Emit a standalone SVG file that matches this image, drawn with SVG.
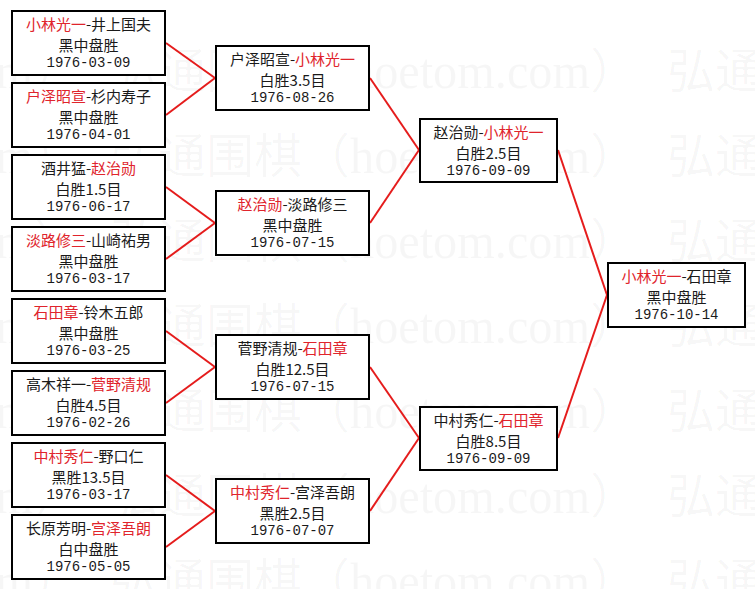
<svg xmlns="http://www.w3.org/2000/svg" width="755" height="589" viewBox="0 0 755 589">
<style>
.bg{fill:#ffffff}
.wm{font-family:"Noto Sans CJK SC",sans-serif;font-size:48px;fill:#000;fill-opacity:0.035}
.wl{font-family:"Liberation Serif",serif;font-size:50px}
.box{fill:#ffffff;stroke:#000;stroke-width:2}
.t{font-family:"Noto Sans CJK SC","Noto Sans",sans-serif;font-size:15px;fill:#1a1a1a;text-anchor:middle}
.d{font-family:"Liberation Mono","DejaVu Sans Mono",monospace;font-size:14px;fill:#1a1a1a;text-anchor:middle}
.r{fill:#e0242c}
.c{stroke:#e51c1c;stroke-width:2;fill:none}
</style>
<defs>
<g id="wmrow">
<text class="wm" x="-207" y="0"><tspan class="wl" textLength="240" lengthAdjust="spacingAndGlyphs">hoetom.com</tspan><tspan x="33">）</tspan><tspan x="110">弘通围棋（</tspan><tspan class="wl" x="350" textLength="240" lengthAdjust="spacingAndGlyphs">hoetom.com</tspan><tspan x="590">）</tspan><tspan x="667">弘通</tspan></text>
</g>
</defs>
<rect class="bg" x="0" y="0" width="755" height="589"/>
<g id="watermark">
<use href="#wmrow" x="0" y="88"/>
<use href="#wmrow" x="0" y="173"/>
<use href="#wmrow" x="0" y="258"/>
<use href="#wmrow" x="0" y="343"/>
<use href="#wmrow" x="0" y="428"/>
<use href="#wmrow" x="0" y="513"/>
<use href="#wmrow" x="0" y="598"/>
</g>
<g id="connectors">
<line class="c" x1="166" y1="43" x2="215" y2="78"/>
<line class="c" x1="166" y1="115" x2="215" y2="78"/>
<line class="c" x1="166" y1="187" x2="215" y2="223"/>
<line class="c" x1="166" y1="259" x2="215" y2="223"/>
<line class="c" x1="166" y1="331" x2="215" y2="367"/>
<line class="c" x1="166" y1="403" x2="215" y2="367"/>
<line class="c" x1="166" y1="475" x2="215" y2="511"/>
<line class="c" x1="166" y1="547" x2="215" y2="511"/>
<line class="c" x1="370" y1="78" x2="419" y2="150"/>
<line class="c" x1="370" y1="223" x2="419" y2="150"/>
<line class="c" x1="370" y1="367" x2="419" y2="438"/>
<line class="c" x1="370" y1="511" x2="419" y2="438"/>
<line class="c" x1="558" y1="150" x2="607" y2="295"/>
<line class="c" x1="558" y1="438" x2="607" y2="295"/>
</g>
<g id="r1a">
<rect class="box" x="12" y="11" width="153" height="64"/>
<text class="t" x="88.5" y="30"><tspan class="r">小林光一</tspan>-井上国夫</text>
<text class="t" x="88.5" y="50.5">黑中盘胜</text>
<text class="d" x="88.5" y="67">1976-03-09</text>
</g>
<g id="r1b">
<rect class="box" x="12" y="83" width="153" height="64"/>
<text class="t" x="88.5" y="102"><tspan class="r">户泽昭宣</tspan>-杉内寿子</text>
<text class="t" x="88.5" y="122.5">黑中盘胜</text>
<text class="d" x="88.5" y="139">1976-04-01</text>
</g>
<g id="r1c">
<rect class="box" x="12" y="155" width="153" height="64"/>
<text class="t" x="88.5" y="174">酒井猛-<tspan class="r">赵治勋</tspan></text>
<text class="t" x="88.5" y="194.5">白胜1.5目</text>
<text class="d" x="88.5" y="211">1976-06-17</text>
</g>
<g id="r1d">
<rect class="box" x="12" y="227" width="153" height="64"/>
<text class="t" x="88.5" y="246"><tspan class="r">淡路修三</tspan>-山崎祐男</text>
<text class="t" x="88.5" y="266.5">黑中盘胜</text>
<text class="d" x="88.5" y="283">1976-03-17</text>
</g>
<g id="r1e">
<rect class="box" x="12" y="299" width="153" height="64"/>
<text class="t" x="88.5" y="318"><tspan class="r">石田章</tspan>-铃木五郎</text>
<text class="t" x="88.5" y="338.5">黑中盘胜</text>
<text class="d" x="88.5" y="355">1976-03-25</text>
</g>
<g id="r1f">
<rect class="box" x="12" y="371" width="153" height="64"/>
<text class="t" x="88.5" y="390">高木祥一-<tspan class="r">菅野清规</tspan></text>
<text class="t" x="88.5" y="410.5">白胜4.5目</text>
<text class="d" x="88.5" y="427">1976-02-26</text>
</g>
<g id="r1g">
<rect class="box" x="12" y="443" width="153" height="64"/>
<text class="t" x="88.5" y="462"><tspan class="r">中村秀仁</tspan>-野口仁</text>
<text class="t" x="88.5" y="482.5">黑胜13.5目</text>
<text class="d" x="88.5" y="499">1976-03-17</text>
</g>
<g id="r1h">
<rect class="box" x="12" y="515" width="153" height="64"/>
<text class="t" x="88.5" y="534">长原芳明-<tspan class="r">宫泽吾朗</tspan></text>
<text class="t" x="88.5" y="554.5">白中盘胜</text>
<text class="d" x="88.5" y="571">1976-05-05</text>
</g>
<g id="r2a">
<rect class="box" x="216" y="46" width="153" height="64"/>
<text class="t" x="292.5" y="65">户泽昭宣-<tspan class="r">小林光一</tspan></text>
<text class="t" x="292.5" y="85.5">白胜3.5目</text>
<text class="d" x="292.5" y="102">1976-08-26</text>
</g>
<g id="r2b">
<rect class="box" x="216" y="191" width="153" height="64"/>
<text class="t" x="292.5" y="210"><tspan class="r">赵治勋</tspan>-淡路修三</text>
<text class="t" x="292.5" y="230.5">黑中盘胜</text>
<text class="d" x="292.5" y="247">1976-07-15</text>
</g>
<g id="r2c">
<rect class="box" x="216" y="335" width="153" height="64"/>
<text class="t" x="292.5" y="354">菅野清规-<tspan class="r">石田章</tspan></text>
<text class="t" x="292.5" y="374.5">白胜12.5目</text>
<text class="d" x="292.5" y="391">1976-07-15</text>
</g>
<g id="r2d">
<rect class="box" x="216" y="479" width="153" height="64"/>
<text class="t" x="292.5" y="498"><tspan class="r">中村秀仁</tspan>-宫泽吾朗</text>
<text class="t" x="292.5" y="518.5">黑胜2.5目</text>
<text class="d" x="292.5" y="535">1976-07-07</text>
</g>
<g id="r3a">
<rect class="box" x="420" y="119" width="137" height="63"/>
<text class="t" x="488.5" y="138">赵治勋-<tspan class="r">小林光一</tspan></text>
<text class="t" x="488.5" y="158.5">白胜2.5目</text>
<text class="d" x="488.5" y="175">1976-09-09</text>
</g>
<g id="r3b">
<rect class="box" x="420" y="407" width="137" height="63"/>
<text class="t" x="488.5" y="426">中村秀仁-<tspan class="r">石田章</tspan></text>
<text class="t" x="488.5" y="446.5">白胜8.5目</text>
<text class="d" x="488.5" y="463">1976-09-09</text>
</g>
<g id="final">
<rect class="box" x="608" y="263" width="137" height="64"/>
<text class="t" x="676.5" y="282"><tspan class="r">小林光一</tspan>-石田章</text>
<text class="t" x="676.5" y="302.5">黑中盘胜</text>
<text class="d" x="676.5" y="319">1976-10-14</text>
</g>
</svg>
